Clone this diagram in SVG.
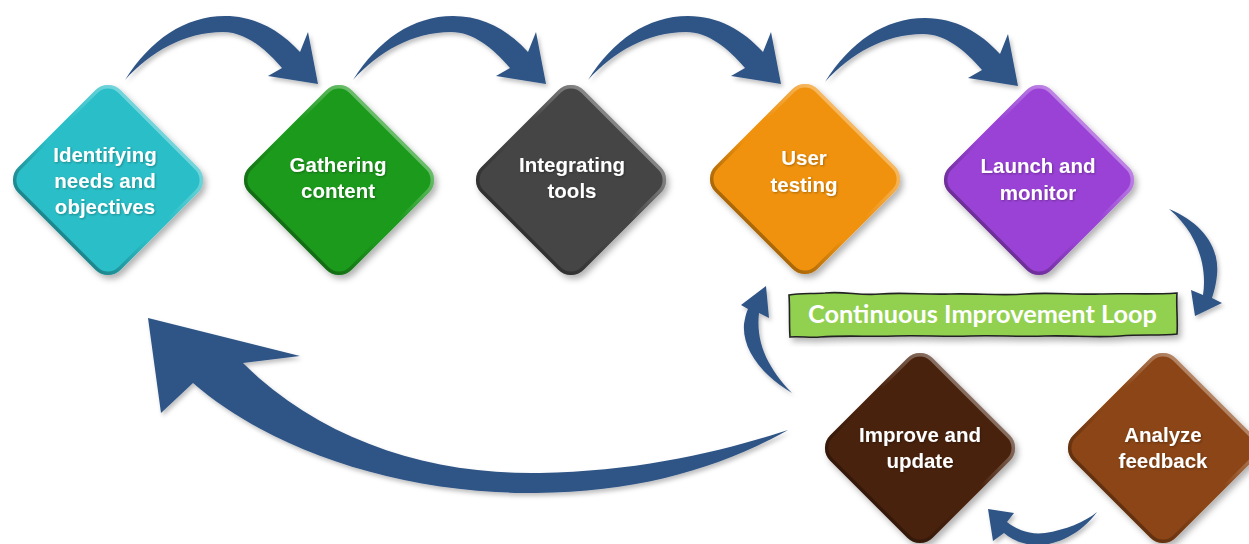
<svg xmlns="http://www.w3.org/2000/svg" xmlns:xlink="http://www.w3.org/1999/xlink" width="1249" height="544" viewBox="0 0 1249 544">
<style>
.lbl{font-family:"Liberation Sans",Arial,sans-serif;font-weight:bold;font-size:20.5px;fill:#ffffff;text-anchor:middle;filter:url(#ts)}
.arrow{fill:#2f5486;filter:url(#as)}
.ban{font-family:Lato,"Open Sans",sans-serif;font-weight:bold;font-size:24px;fill:#ffffff}
</style>
<defs>
<rect id="dia" x="-72.5" y="-72.5" width="145" height="145" rx="18" transform="rotate(45)"/>
<clipPath id="diaClip"><use xlink:href="#dia"/></clipPath>
<linearGradient id="rim" x1="0" y1="0" x2="0" y2="1">
<stop offset="0" stop-color="#ffffff" stop-opacity="0.35"/>
<stop offset="0.4" stop-color="#ffffff" stop-opacity="0"/>
<stop offset="0.6" stop-color="#000000" stop-opacity="0"/>
<stop offset="1" stop-color="#000000" stop-opacity="0.3"/>
</linearGradient>
<filter id="ds" x="-20%" y="-20%" width="140%" height="140%">
<feDropShadow dx="3" dy="4" stdDeviation="3" flood-color="#000" flood-opacity="0.3"/>
</filter>
<filter id="as" x="-20%" y="-20%" width="140%" height="140%">
<feDropShadow dx="2" dy="3" stdDeviation="2" flood-color="#000" flood-opacity="0.25"/>
</filter>
<filter id="ts" x="-10%" y="-30%" width="120%" height="160%">
<feDropShadow dx="1" dy="1" stdDeviation="0.8" flood-color="#000" flood-opacity="0.3"/>
</filter>
<path id="topArrow" d="M0,0 C25,-40 60,-64 100,-64 C130,-64 155,-50 175,-28 L183,-48 L193,4 L143,-4 L157,-12 C140,-32 120,-48 98,-48 C60,-48 25,-28 0,0 Z"/>
</defs>

<g id="connectors">
<use xlink:href="#topArrow" class="arrow" transform="translate(125,80)"/>
<use xlink:href="#topArrow" class="arrow" transform="translate(353,80)"/>
<use xlink:href="#topArrow" class="arrow" transform="translate(588,80)"/>
<use xlink:href="#topArrow" class="arrow" transform="translate(825,82)"/>
<path class="arrow" d="M1169,209 C1200,222 1220,245 1217,275 C1216,285 1214,292 1212,298 L1222,303 L1195,316 L1191,290 L1203,295 C1207,270 1200,235 1169,209 Z"/>
<path class="arrow" d="M792,393 C762,375 742,350 744,324 C745,318 746,313 748,309 L741,305 L766,286 L769,318 L759,313 C756,340 765,365 792,393 Z"/>
<path class="arrow" d="M1097,512 C1080,535 1055,546 1035,545 C1022,544 1012,540 1004,533 L993,541 L988,509 L1014,513 L1007,522 C1017,530 1030,535 1045,533 C1065,530 1085,522 1097,512 Z"/>
<path class="arrow" d="M148,318 L300,356 L243,363 C320,440 430,475 540,473 C640,471 720,452 788,430 C720,468 640,492 536,493 C400,494 270,450 193,383 L161,413 Z"/>
</g>

<g id="banner">
<path d="M789,295 C800,293 812,294 825,293 C845,291 860,296 880,294 C905,292 925,295 950,294 C975,293 1000,296 1025,294 C1050,292 1075,295 1100,294 C1125,293 1150,295 1177,293 C1176,305 1178,320 1177,334 C1160,336 1140,334 1120,336 C1095,338 1070,335 1045,336 C1020,337 995,335 970,336 C945,337 920,335 895,336 C870,337 845,335 820,337 C810,338 800,336 790,337 C789,323 790,309 789,295 Z" fill="#92d050" stroke="#222" stroke-width="1.6" filter="url(#ds)"/>
<text class="ban" x="808" y="323" textLength="349" lengthAdjust="spacingAndGlyphs">Continuous Improvement Loop</text>
</g>

<g id="n1" transform="translate(108,180)">
<use xlink:href="#dia" fill="#2bbfc8" filter="url(#ds)"/>
<use xlink:href="#dia" fill="none" stroke="url(#rim)" stroke-width="7" clip-path="url(#diaClip)"/>
<text class="lbl" x="-3" y="-18">Identifying</text>
<text class="lbl" x="-3" y="8">needs and</text>
<text class="lbl" x="-3" y="34">objectives</text>
</g>

<g id="n2" transform="translate(339,180)">
<use xlink:href="#dia" fill="#1b9a1f" filter="url(#ds)"/>
<use xlink:href="#dia" fill="none" stroke="url(#rim)" stroke-width="7" clip-path="url(#diaClip)"/>
<text class="lbl" x="-1" y="-8">Gathering</text>
<text class="lbl" x="-1" y="18">content</text>
</g>

<g id="n3" transform="translate(571,180)">
<use xlink:href="#dia" fill="#444444" filter="url(#ds)"/>
<use xlink:href="#dia" fill="none" stroke="url(#rim)" stroke-width="7" clip-path="url(#diaClip)"/>
<text class="lbl" x="1" y="-8">Integrating</text>
<text class="lbl" x="1" y="18">tools</text>
</g>

<g id="n4" transform="translate(805,179)">
<use xlink:href="#dia" fill="#f0920c" filter="url(#ds)"/>
<use xlink:href="#dia" fill="none" stroke="url(#rim)" stroke-width="7" clip-path="url(#diaClip)"/>
<text class="lbl" x="-1" y="-14">User</text>
<text class="lbl" x="-1" y="13">testing</text>
</g>

<g id="n5" transform="translate(1039,180)">
<use xlink:href="#dia" fill="#9a42d6" filter="url(#ds)"/>
<use xlink:href="#dia" fill="none" stroke="url(#rim)" stroke-width="7" clip-path="url(#diaClip)"/>
<text class="lbl" x="-1" y="-7">Launch and</text>
<text class="lbl" x="-1" y="20">monitor</text>
</g>

<g id="n6" transform="translate(920,448)">
<use xlink:href="#dia" fill="#4a230e" filter="url(#ds)"/>
<use xlink:href="#dia" fill="none" stroke="url(#rim)" stroke-width="7" clip-path="url(#diaClip)"/>
<text class="lbl" x="0" y="-6">Improve and</text>
<text class="lbl" x="0" y="20">update</text>
</g>

<g id="n7" transform="translate(1163,448)">
<use xlink:href="#dia" fill="#8b4514" filter="url(#ds)"/>
<use xlink:href="#dia" fill="none" stroke="url(#rim)" stroke-width="7" clip-path="url(#diaClip)"/>
<text class="lbl" x="0" y="-6">Analyze</text>
<text class="lbl" x="0" y="20">feedback</text>
</g>
</svg>
